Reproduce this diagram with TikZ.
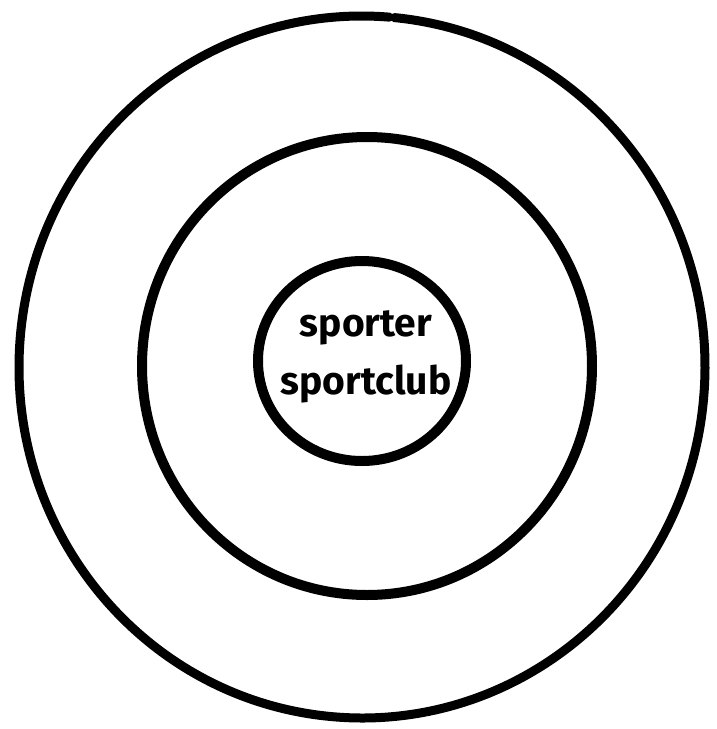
\documentclass[tikz,border=0pt]{standalone}
\usepackage{fontspec}
\newfontfamily\handfont{Fira Sans}
\begin{document}
\begin{tikzpicture}[x=1pt,y=-1pt,
  ring/.style={draw=black,line width=9pt,line cap=round},
  label/.style={font=\handfont\bfseries\fontsize{39}{58}\selectfont,align=center,inner sep=0pt}]
\useasboundingbox (0,0) rectangle (716,729);
\fill[white] (0,0) rectangle (716,729);
% outer ring with a small gap at the top
\draw[ring] (362,367) ++(-84.6:343 and 351) arc[start angle=-84.6,end angle=-83.6+360-1.8,x radius=343,y radius=351];
\draw[ring,line width=10pt] (367,366) ellipse[x radius=225,y radius=229];
\draw[ring,line width=10pt] (362,361) ellipse[x radius=104,y radius=100];
\node[label] (t) at (366,357) {sporter\\sportclub};
\end{tikzpicture}
\end{document}
